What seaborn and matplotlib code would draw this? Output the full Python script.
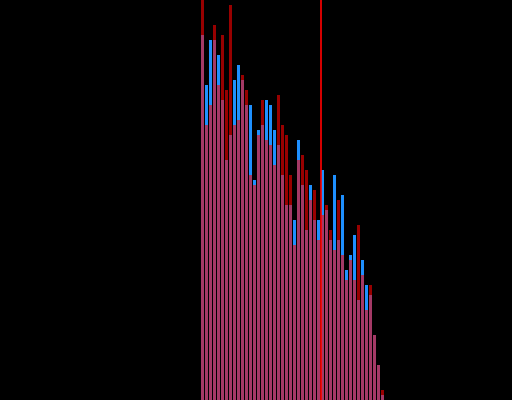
import matplotlib
matplotlib.use('Agg')
import matplotlib.pyplot as plt
import seaborn as sns
import pandas as pd

# bin index and counts of the two overlapping histograms
bins = list(range(46))
blue_counts = [73, 63, 72, 72, 69, 60, 48, 53, 64, 67,
               64, 59, 59, 44, 54, 55, 60, 59, 54, 51,
               45, 39, 39, 36, 52, 43, 34, 43, 36, 36,
               46, 38, 32, 45, 32, 41, 26, 29, 33, 20,
               28, 23, 21, 13, 7, 1]
red_counts = [80, 55, 59, 75, 63, 73, 62, 79, 55, 56,
              65, 62, 45, 43, 53, 60, 52, 51, 47, 61,
              55, 53, 45, 31, 48, 49, 46, 40, 42, 32,
              37, 39, 34, 30, 40, 29, 24, 28, 24, 35,
              25, 18, 23, 13, 7, 2]
marker_x = 29.5

df = pd.DataFrame({'bin': bins, 'blue': blue_counts, 'red': red_counts})

fig = plt.figure(figsize=(5.12, 4.0), dpi=100, facecolor='black')
ax = fig.add_axes([0, 0, 1, 1])
ax.set_facecolor('black')

sns.barplot(data=df, x='bin', y='blue', color='#1e90ff', saturation=1,
            width=0.75, linewidth=0, ax=ax)
sns.barplot(data=df, x='bin', y='red', color='#ff0000', saturation=1,
            alpha=0.6, width=0.75, linewidth=0, ax=ax)
ax.axvline(marker_x, color='#ff0000', linewidth=1.2, zorder=5)

ax.set_xlim(-50.625, 77.375)
ax.set_ylim(0, 80)
ax.axis('off')

fig.savefig('out.png', dpi=100, facecolor='black')
